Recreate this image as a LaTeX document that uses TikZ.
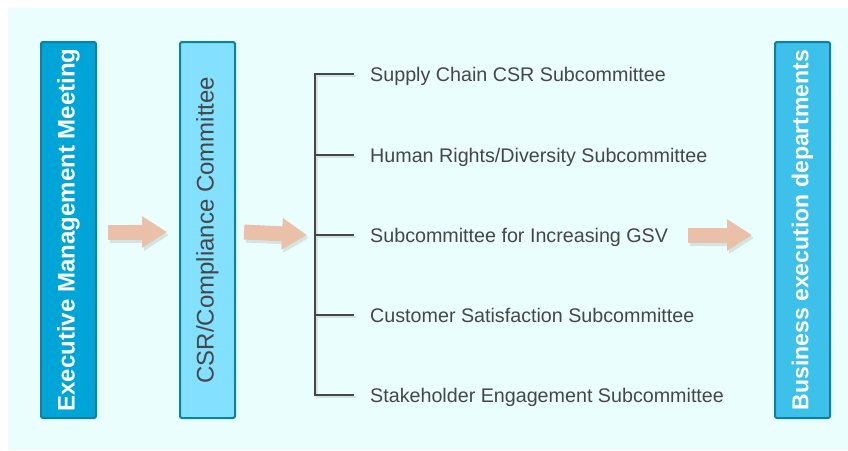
\documentclass[tikz,border=0pt]{standalone}
\usepackage{fontspec}
\setmainfont{Liberation Sans}
\usetikzlibrary{arrows.meta}

\definecolor{bgcyan}{HTML}{EBFEFE}
\definecolor{execfill}{HTML}{00A5D8}
\definecolor{csrfill}{HTML}{84E0FF}
\definecolor{bizfill}{HTML}{3DC1EA}
\definecolor{boxline}{HTML}{0A82A6}
\definecolor{peach}{HTML}{EBC0A8}
\definecolor{softshadow}{HTML}{D3E4E2}
\definecolor{inkgrey}{HTML}{464646}

\tikzset{
  pillar/.style={rounded corners=2pt, line width=2pt, draw=boxline,
    minimum width=55pt, minimum height=376pt, inner sep=0pt},
  flow/.style={line width=15pt, draw=peach,
    -{Triangle[length=25pt 0 0, width=30pt 0 0]}},
  bracket/.style={line width=2.5pt, draw=inkgrey},
  sub/.style={inner sep=0pt, text=inkgrey, font=\fontsize{19.7}{20}\selectfont}
}

% arrow with a soft drop shadow
\newcommand{\flowarrow}[2]{%
  \draw[flow, draw=softshadow, transform canvas={shift={(2pt,-3pt)}}] #1 -- #2;
  \draw[flow] #1 -- #2;}

\begin{document}
\begin{tikzpicture}[x=1pt, y=-1pt]
    \useasboundingbox (0,0) rectangle (848,450);
    \fill[bgcyan] (8,8) rectangle (848,450);

    % the three upright boxes
    \node[pillar, fill=execfill, text=white] (exec) at (68.5,230)
      {\rotatebox{90}{\fontsize{24}{24}\selectfont\bfseries Executive Management Meeting}};
    \node[pillar, fill=csrfill, text=inkgrey] (csr) at (207.5,230)
      {\rotatebox{90}{\fontsize{24}{24}\selectfont CSR/Compliance Committee}};
    \node[pillar, fill=bizfill, text=white] (biz) at (802.5,230)
      {\rotatebox{90}{\fontsize{23}{23}\selectfont\bfseries Business execution departments}};

    % subcommittees hanging off the bracket
    \coordinate (spine) at (315,0);
    \foreach \y [count=\i] in {74,155,235,315,395}
      \coordinate (t\i) at (354,\y);
    \node[sub, anchor=base west] (s1) at ([xshift=16pt, yshift=-7pt]t1) {Supply Chain CSR Subcommittee};
    \node[sub, anchor=base west] (s2) at ([xshift=16pt, yshift=-7pt]t2) {Human Rights/Diversity Subcommittee};
    \node[sub, anchor=base west] (s3) at ([xshift=16pt, yshift=-7pt]t3) {Subcommittee for Increasing GSV};
    \node[sub, anchor=base west] (s4) at ([xshift=16pt, yshift=-7pt]t4) {Customer Satisfaction Subcommittee};
    \node[sub, anchor=base west] (s5) at ([xshift=16pt, yshift=-7pt]t5) {Stakeholder Engagement Subcommittee};

    \begin{scope}[transform canvas={shift={(2pt,-2pt)}}]
      \draw[bracket, draw=softshadow] (t1) -- (t1 -| spine) -- (t5 -| spine) -- (t5);
      \foreach \i in {2,3,4}
        \draw[bracket, draw=softshadow] (t\i) -- (t\i -| spine);
    \end{scope}
    \draw[bracket] (t1) -- (t1 -| spine) -- (t5 -| spine) -- (t5);
    \foreach \i in {2,3,4}
      \draw[bracket] (t\i) -- (t\i -| spine);

    % flow arrows
    \flowarrow{([xshift=11pt, yshift=-2pt]exec.east)}{([xshift=-12pt, yshift=-2pt]csr.west)}
    \flowarrow{([xshift=8pt, yshift=-2pt]csr.east)}{([xshift=-8pt]t3 -| spine)}
    \flowarrow{([xshift=20pt]s3.east |- t3)}{([xshift=-22pt]t3 -| biz.west)}
\end{tikzpicture}
\end{document}
